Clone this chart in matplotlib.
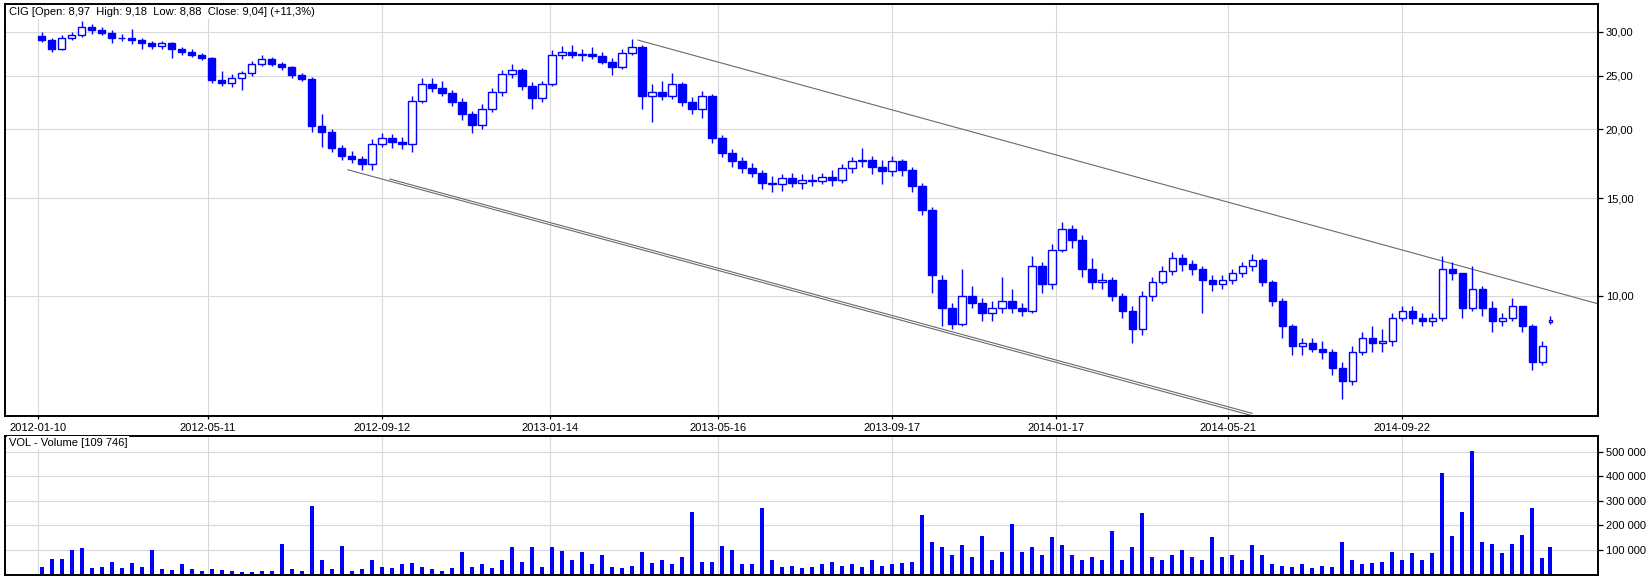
import matplotlib
matplotlib.use("Agg")
import matplotlib.pyplot as plt
from matplotlib.ticker import FixedLocator, FuncFormatter, NullLocator

# weekly OHLC (2012-01-10 .. 2014-12), one value per week
opens = [29.5, 29.0, 28.0, 29.3, 29.6, 30.6, 30.3, 29.9, 29.2, 29.3,
         29.0, 28.6, 28.3, 28.6, 28.0, 27.6, 27.3, 26.9, 24.6, 24.3,
         24.8, 25.3, 26.3, 26.8, 26.3, 25.9, 25.1, 24.7, 20.3, 19.8,
         18.5, 17.9, 17.7, 17.3, 18.8, 19.3, 19.0, 18.8, 22.5, 24.2,
         23.8, 23.3, 22.4, 21.3, 20.4, 21.8, 23.4, 25.2, 25.6, 24.0,
         22.8, 24.2, 27.3, 27.6, 27.2, 27.4, 27.1, 26.5, 25.9, 27.5,
         28.2, 23.0, 23.4, 23.0, 24.2, 22.4, 21.8, 23.0, 19.3, 18.1,
         17.5, 17.0, 16.7, 16.0, 15.9, 16.3, 16.0, 16.2, 16.1, 16.4,
         16.2, 17.0, 17.5, 17.6, 17.1, 16.8, 17.5, 16.9, 15.8, 14.3,
         10.7, 9.5, 8.9, 10.0, 9.7, 9.3, 9.5, 9.8, 9.5, 9.4,
         11.3, 10.5, 12.1, 13.2, 12.6, 11.2, 10.6, 10.7, 10.0, 9.4,
         8.7, 10.0, 10.6, 11.1, 11.7, 11.4, 11.2, 10.7, 10.5, 10.7,
         11.0, 11.3, 11.6, 10.6, 9.8, 8.8, 8.1, 8.2, 8.0, 7.9,
         7.4, 7.0, 7.9, 8.4, 8.2, 8.3, 9.1, 9.4, 9.1, 9.0,
         9.1, 11.2, 11.0, 9.5, 10.3, 9.5, 9.0, 9.1, 9.6, 8.8,
         7.6]
highs = [30.0, 29.3, 29.6, 30.0, 31.4, 31.0, 30.6, 30.2, 29.8, 30.4,
         29.3, 28.9, 28.9, 28.8, 28.2, 27.9, 27.5, 27.0, 25.5, 25.2,
         25.5, 26.6, 27.2, 27.0, 26.5, 26.0, 25.3, 24.9, 21.3, 20.0,
         18.7, 18.3, 17.9, 19.2, 19.7, 19.6, 19.4, 23.0, 24.8, 24.8,
         24.5, 23.6, 22.8, 21.6, 22.2, 23.8, 25.6, 26.3, 25.8, 24.4,
         24.5, 27.8, 28.3, 28.4, 27.9, 28.2, 27.6, 26.9, 27.9, 29.1,
         28.4, 24.2, 24.5, 25.3, 24.4, 22.9, 23.5, 23.2, 19.5, 18.4,
         17.8, 17.4, 16.9, 16.5, 16.6, 16.7, 16.6, 16.6, 16.7, 16.9,
         17.3, 17.8, 18.5, 17.9, 17.6, 17.9, 17.7, 17.1, 16.0, 14.5,
         10.9, 9.7, 11.2, 10.4, 9.9, 9.8, 10.8, 10.3, 9.7, 11.8,
         11.5, 12.4, 13.6, 13.4, 12.9, 11.7, 11.0, 10.8, 10.1, 9.6,
         10.2, 10.8, 11.3, 12.0, 11.9, 11.6, 11.3, 10.9, 10.9, 11.2,
         11.5, 11.9, 11.7, 10.7, 9.9, 8.9, 8.4, 8.4, 8.3, 8.0,
         7.6, 8.1, 8.6, 8.8, 8.7, 9.3, 9.6, 9.6, 9.3, 9.3,
         11.8, 11.5, 11.0, 11.3, 10.4, 9.8, 9.3, 9.9, 9.6, 8.9,
         8.3]
lows = [28.8, 27.6, 27.8, 29.0, 29.4, 29.8, 29.6, 28.6, 28.9, 28.5,
        28.0, 27.9, 28.0, 26.9, 27.2, 27.0, 26.7, 24.3, 24.0, 23.9,
        23.6, 25.0, 26.0, 26.0, 25.6, 24.8, 24.5, 19.8, 18.6, 18.2,
        17.6, 17.4, 16.9, 16.9, 18.6, 18.5, 18.4, 18.2, 22.3, 23.4,
        23.0, 22.0, 20.8, 19.7, 20.0, 21.5, 23.0, 24.8, 23.6, 21.8,
        22.4, 24.0, 26.8, 26.9, 26.6, 26.8, 26.2, 25.1, 25.7, 27.2,
        21.8, 20.6, 22.6, 22.7, 22.0, 21.3, 21.0, 18.9, 17.8, 17.1,
        16.7, 16.4, 15.6, 15.4, 15.5, 15.7, 15.6, 15.8, 15.9, 15.8,
        16.0, 16.7, 17.1, 16.6, 15.9, 16.5, 16.5, 15.4, 14.0, 10.1,
        8.8, 8.7, 8.8, 9.5, 9.0, 9.0, 9.3, 9.3, 9.2, 9.3,
        10.1, 10.3, 12.0, 12.2, 10.8, 10.3, 10.3, 9.8, 9.1, 8.2,
        8.5, 9.8, 10.5, 10.9, 11.1, 10.9, 9.3, 10.2, 10.3, 10.5,
        10.8, 11.1, 10.4, 9.6, 8.4, 7.8, 7.8, 7.9, 7.7, 7.2,
        6.5, 6.9, 7.8, 7.9, 7.9, 8.1, 9.0, 8.9, 8.8, 8.8,
        9.0, 10.7, 9.1, 9.4, 9.2, 8.6, 8.8, 9.0, 8.6, 7.35,
        7.5]
closes = [29.0, 28.0, 29.3, 29.6, 30.6, 30.3, 29.9, 29.2, 29.3, 29.0,
          28.6, 28.3, 28.6, 28.0, 27.6, 27.3, 26.9, 24.6, 24.3, 24.8,
          25.3, 26.3, 26.8, 26.3, 25.9, 25.1, 24.7, 20.3, 19.8, 18.5,
          17.9, 17.7, 17.3, 18.8, 19.3, 19.0, 18.8, 22.5, 24.2, 23.8,
          23.3, 22.4, 21.3, 20.4, 21.8, 23.4, 25.2, 25.6, 24.0, 22.8,
          24.2, 27.3, 27.6, 27.2, 27.4, 27.1, 26.5, 25.9, 27.5, 28.2,
          23.0, 23.4, 23.0, 24.2, 22.4, 21.8, 23.0, 19.3, 18.1, 17.5,
          17.0, 16.7, 16.0, 15.9, 16.3, 16.0, 16.2, 16.1, 16.4, 16.2,
          17.0, 17.5, 17.6, 17.1, 16.8, 17.5, 16.9, 15.8, 14.3, 10.9,
          9.5, 8.9, 10.0, 9.7, 9.3, 9.5, 9.8, 9.5, 9.4, 11.3,
          10.5, 12.1, 13.2, 12.6, 11.2, 10.6, 10.7, 10.0, 9.4, 8.7,
          10.0, 10.6, 11.1, 11.7, 11.4, 11.2, 10.7, 10.5, 10.7, 11.0,
          11.3, 11.6, 10.6, 9.8, 8.8, 8.1, 8.2, 8.0, 7.9, 7.4,
          7.0, 7.9, 8.4, 8.2, 8.3, 9.1, 9.4, 9.1, 9.0, 9.1,
          11.2, 11.0, 9.5, 10.3, 9.5, 9.0, 9.1, 9.6, 8.8, 7.6,
          8.12]
# largest daily volume seen in each week (thousands)
volumes = [30, 62, 62, 100, 107, 25, 30, 50, 25, 48,
           30, 98, 20, 18, 40, 22, 15, 20, 18, 12,
           10, 10, 12, 15, 122, 20, 15, 280, 60, 20,
           115, 15, 20, 60, 30, 25, 40, 45, 30, 20,
           15, 25, 90, 30, 40, 25, 60, 110, 50, 110,
           30, 110, 95, 60, 90, 40, 80, 30, 25, 35,
           90, 45, 60, 40, 70, 254, 50, 50, 115, 100,
           40, 40, 272, 60, 30, 35, 25, 30, 40, 50,
           35, 40, 30, 60, 35, 40, 45, 50, 240, 130,
           110, 80, 120, 70, 155, 60, 90, 205, 90, 110,
           80, 150, 120, 80, 60, 70, 60, 175, 60, 110,
           248, 70, 60, 80, 100, 70, 60, 150, 70, 80,
           60, 120, 80, 40, 35, 30, 40, 25, 35, 30,
           130, 60, 40, 45, 50, 90, 60, 85, 60, 85,
           412, 155, 253, 502, 130, 122, 85, 122, 160, 270,
           65]

# last session, shown on its own
last_ohlc = [8.97, 9.18, 8.88, 9.04]
last_volume = 109746
last_day = 756

tick_days = [0, 85, 172, 256, 340, 427, 509, 595, 682]
tick_labels = ["2012-01-10", "2012-05-11", "2012-09-12", "2013-01-14", "2013-05-16",
               "2013-09-17", "2014-01-17", "2014-05-21", "2014-09-22"]
price_ticks = [10, 15, 20, 25, 30]
volume_ticks = [100000, 200000, 300000, 400000, 500000]

# trend lines (day index, price)
upper_trend = ([300, 780], [29.0, 9.67])
lower_trend_a = ([155, 607], [16.9, 6.07])
lower_trend_b = ([176, 607], [16.26, 6.13])

BLUE = "#0000ff"
GRID = "#d9d9d9"
TREND = "#6a6a6a"

plt.rcParams["font.family"] = ["Liberation Sans", "DejaVu Sans"]
plt.rcParams["font.size"] = 8

fig = plt.figure(figsize=(16.52, 5.80), dpi=100)
ax = fig.add_axes([0.00303, 0.2833, 0.9643, 0.7098])
axv = fig.add_axes([0.00303, 0.0086, 0.9643, 0.2402])

x_week = [5 * i + 2 for i in range(len(closes))]

# wicks, then bodies (hollow = up, filled = down)
ax.vlines(x_week, lows, highs, color=BLUE, lw=1.0, zorder=3)
for x, o, c in zip(x_week, opens, closes):
    up = c >= o
    ax.bar(x, abs(c - o) if abs(c - o) > 0.02 else 0.04, bottom=min(o, c), width=3.6,
           facecolor="white" if up else BLUE, edgecolor=BLUE, lw=1.0, zorder=4)
lo, hi, lw_, lc = last_ohlc
ax.vlines(last_day, lw_, hi, color=BLUE, lw=1.0, zorder=3)
ax.bar(last_day, lc - lo, bottom=lo, width=1.6, facecolor="white", edgecolor=BLUE, lw=1.0, zorder=4)

for xs, ys in (upper_trend, lower_trend_a, lower_trend_b):
    ax.plot(xs, ys, color=TREND, lw=0.8, zorder=2)

ax.set_yscale("log")
ax.set_ylim(6.07, 33.7)
ax.set_xlim(-16.4, 779.9)
ax.yaxis.set_major_locator(FixedLocator(price_ticks))
ax.yaxis.set_minor_locator(NullLocator())
ax.yaxis.set_major_formatter(FuncFormatter(lambda v, p: f"{v:.2f}".replace(".", ",")))
ax.yaxis.tick_right()
ax.set_xticks(tick_days)
ax.set_xticklabels(tick_labels)
ax.tick_params(axis="y", direction="out", length=3.6, width=0.9, pad=2, labelsize=8)
ax.tick_params(axis="x", direction="out", length=2.5, width=0.9, pad=2.5, labelsize=8)
ax.grid(True, color=GRID, lw=0.8, zorder=0)
ax.set_axisbelow(True)

ax.text(0.0025, 0.993, "CIG [Open: 8,97  High: 9,18  Low: 8,88  Close: 9,04] (+11,3%)",
        transform=ax.transAxes, ha="left", va="top", fontsize=8,
        bbox=dict(facecolor="white", edgecolor="none", pad=1.2), zorder=6)

# volume panel
vol_values = [v * 1000 for v in volumes]
axv.bar(x_week, vol_values, width=1.8, color=BLUE, lw=0, zorder=3)
axv.bar(last_day, last_volume, width=1.8, color=BLUE, lw=0, zorder=3)
axv.set_xlim(-16.4, 779.9)
axv.set_ylim(-3000, 565000)
axv.yaxis.set_major_locator(FixedLocator(volume_ticks))
axv.yaxis.set_major_formatter(FuncFormatter(lambda v, p: f"{int(v):,}".replace(",", " ")))
axv.yaxis.tick_right()
axv.set_xticks(tick_days)
axv.set_xticklabels([])
axv.tick_params(axis="x", length=0)
axv.tick_params(axis="y", direction="out", length=3.6, width=0.9, pad=2, labelsize=8)
axv.grid(True, color=GRID, lw=0.8, zorder=0)
axv.set_axisbelow(True)
axv.text(0.0025, 0.985, "VOL - Volume [109 746]", transform=axv.transAxes,
         ha="left", va="top", fontsize=8,
         bbox=dict(facecolor="white", edgecolor="none", pad=1.2), zorder=6)

for a in (ax, axv):
    for s in a.spines.values():
        s.set_linewidth(1.4)
        s.set_color("black")

fig.savefig("out.png", dpi=100)
